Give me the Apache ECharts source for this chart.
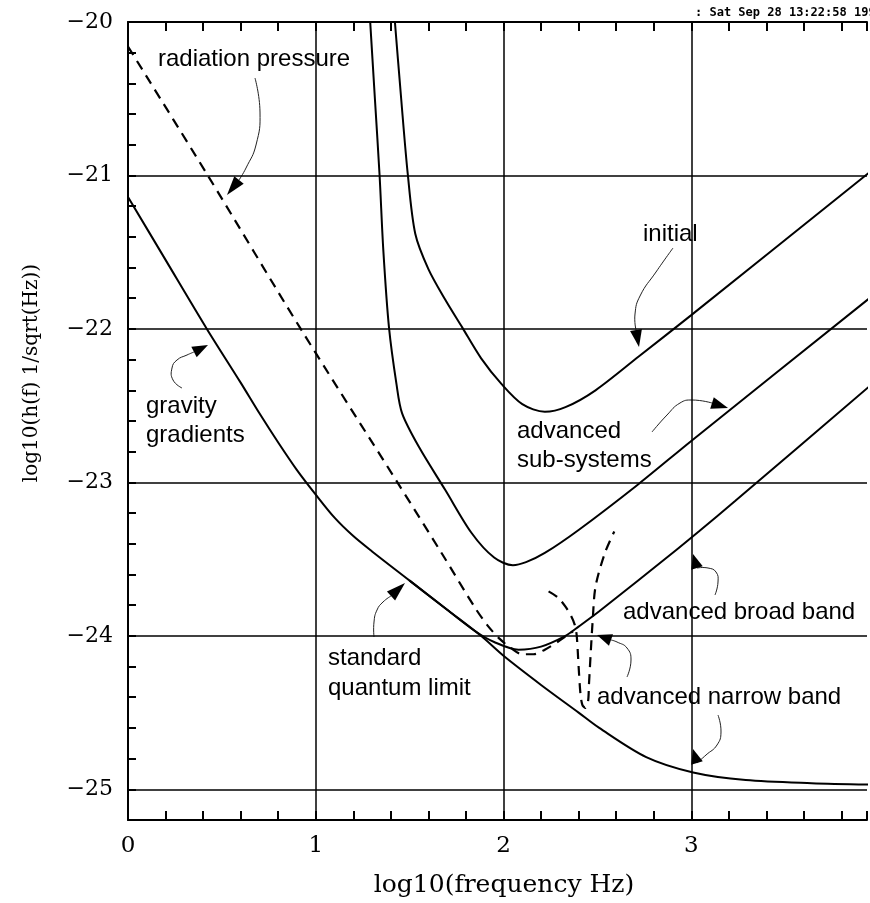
<!DOCTYPE html>
<html>
<head>
<meta charset="utf-8">
<title>Interferometer noise curves</title>
<script src="https://cdn.jsdelivr.net/npm/echarts@6/dist/echarts.min.js"></script>
<style>
  html, body { margin: 0; padding: 0; background: #fff; }
  #chart { width: 870px; height: 903px; }
</style>
</head>
<body>
<div id="chart"></div>
<script>
// points: [log10 frequency, log10 h]
const quantumLimit = [
    [0, -21.14], [0.2, -21.55], [0.42, -22.0], [0.6, -22.35], [0.7, -22.55],
    [0.8, -22.74], [0.9, -22.92], [1.0, -23.08], [1.1, -23.23], [1.2, -23.35],
    [1.3, -23.45], [1.5, -23.64], [1.7, -23.83], [1.88, -24.0], [2.0, -24.13],
    [2.2, -24.32], [2.4, -24.5], [2.51, -24.6], [2.76, -24.79], [3.01, -24.89],
    [3.29, -24.94], [3.64, -24.96], [4.0, -24.97]
];
const broadBand = [
    [1.5, -23.64], [1.7, -23.83], [1.85, -23.97], [1.95, -24.04], [2.08, -24.09],
    [2.2, -24.07], [2.33, -24.0], [2.4, -23.94], [2.51, -23.84], [2.92, -23.44],
    [3.04, -23.32], [3.235, -23.12], [4.0, -22.32]
];
const subSystems = [
    [1.285, -19.9], [1.315, -20.5], [1.34, -21.0], [1.36, -21.49], [1.39, -21.99],
    [1.43, -22.36], [1.46, -22.55], [1.55, -22.77], [1.69, -23.05], [1.83, -23.33],
    [1.95, -23.49], [2.05, -23.54], [2.12, -23.52], [2.22, -23.46], [2.4, -23.31],
    [2.72, -23.01], [3.0, -22.73], [4.0, -21.75]
];
const initial = [
    [1.415, -19.9], [1.455, -20.5], [1.49, -20.99], [1.53, -21.38], [1.6, -21.61],
    [1.69, -21.81], [1.78, -21.99], [1.88, -22.19], [1.99, -22.36], [2.1, -22.49],
    [2.22, -22.54], [2.33, -22.51], [2.49, -22.4], [2.72, -22.18], [3.0, -21.91],
    [4.0, -20.93]
];
const radiationPressure = [
    [0, -20.16], [0.425, -21.0], [0.92, -22.0], [1.435, -23.0], [1.67, -23.46],
    [1.85, -23.82], [1.92, -23.94], [1.98, -24.02], [2.04, -24.08], [2.1, -24.12],
    [2.16, -24.12], [2.22, -24.09], [2.3, -24.03], [2.37, -23.97]
];
const narrowBand = [
    [2.24, -23.71], [2.29, -23.75], [2.33, -23.81], [2.36, -23.87], [2.38, -23.93],
    [2.39, -24.0], [2.4, -24.2], [2.41, -24.38], [2.42, -24.45], [2.435, -24.47],
    [2.45, -24.43], [2.455, -24.32], [2.465, -24.1], [2.475, -23.9], [2.49, -23.68],
    [2.54, -23.46], [2.59, -23.32]
];
const xGridLines = [1, 2, 3];
const yGridLines = [-21, -22, -23, -24, -25];
// the scan is cut off just short of log10 f = 4
const xMax = 3.936;

const chart = echarts.init(document.getElementById('chart'));

const ink = '#000';
const serif = '"DejaVu Serif", serif';
const sans = '"Liberation Sans", Arial, sans-serif';

function curve(data, dashed) {
    return {
        type: 'line',
        data: data,
        symbol: 'none',
        smooth: 0.3,
        clip: true,
        silent: true,
        lineStyle: { color: ink, width: dashed ? 2.2 : 2, type: dashed ? [10, 7] : 'solid' }
    };
}

// thin curved leader + filled arrow head (pixel coords)
function arrow(path, tip) {
    const base = path[path.length - 1];
    const dx = tip[0] - base[0], dy = tip[1] - base[1];
    const len = Math.sqrt(dx * dx + dy * dy);
    const nx = -dy / len * 6, ny = dx / len * 6;
    return [
        { type: 'polyline', shape: { points: path, smooth: 0.5 }, style: { stroke: '#222', lineWidth: 1, fill: null } },
        { type: 'polygon', shape: { points: [tip, [base[0] + nx, base[1] + ny], [base[0] - nx, base[1] - ny]] }, style: { fill: ink } }
    ];
}

function label(text, x, baseline) {
    return { type: 'text', style: { text: text, x: x, y: baseline - 8, font: '24px ' + sans, fill: ink, textAlign: 'left', textVerticalAlign: 'middle' } };
}

const graphics = [
    label('radiation pressure', 158, 67),
    label('initial', 643, 242),
    label('gravity', 146, 414),
    label('gradients', 146, 443),
    label('advanced', 517, 439),
    label('sub-systems', 517, 468),
    label('advanced broad band', 623, 620),
    label('advanced narrow band', 597, 705),
    label('standard', 328, 666),
    label('quantum limit', 328, 696),
    ...arrow([[255, 78], [260, 112], [256, 145], [246, 168], [239, 180]], [227, 195]),
    ...arrow([[673, 248], [656, 272], [640, 296], [635, 314], [636, 330]], [639, 347]),
    ...arrow([[652, 432], [667, 415], [680, 403], [692, 400], [712, 403]], [728, 408]),
    ...arrow([[182, 388], [173, 380], [172, 368], [177, 360], [187, 355], [194, 352]], [208, 345]),
    ...arrow([[374, 637], [374, 622], [377, 610], [383, 602], [391, 596]], [405, 583]),
    ...arrow([[715, 595], [718, 582], [716, 572], [708, 568], [697, 568]], [693, 554]),
    ...arrow([[627, 677], [631, 660], [627, 648], [617, 642], [611, 640]], [597, 635]),
    ...arrow([[718, 715], [721, 732], [717, 745], [706, 755], [697, 763]], [693, 749]),
    {
        type: 'text', rotation: Math.PI / 2, x: 32, y: 373,
        style: { text: 'log10(h(f) 1/sqrt(Hz))', font: '20px ' + serif, fill: ink, textAlign: 'center', textVerticalAlign: 'middle' }
    },
    {
        type: 'text',
        style: { text: 'log10(frequency Hz)', x: 504, y: 885, font: '25px ' + serif, fill: ink, textAlign: 'center', textVerticalAlign: 'middle' }
    },
    {
        type: 'text',
        style: { text: ': Sat Sep 28 13:22:58 1996', x: 695, y: 13, font: 'bold 12px "DejaVu Sans Mono", monospace', fill: ink, textAlign: 'left', textVerticalAlign: 'middle' }
    }
];

const tickStyle = { color: ink, width: 2 };
const isWhole = v => Math.abs(v - Math.round(v)) < 1e-6;

const gridLineSeries = {
    type: 'line',
    data: [],
    silent: true,
    markLine: {
        silent: true,
        symbol: 'none',
        label: { show: false },
        lineStyle: { color: ink, width: 1.5, type: 'solid' },
        data: yGridLines.map(v => ({ yAxis: v })).concat(xGridLines.map(v => ({ xAxis: v })))
    }
};

function xAxisAt(position) {
    return {
        type: 'value', min: 0, max: xMax, interval: 0.2, position: position,
        axisLine: { show: true, lineStyle: tickStyle },
        axisTick: { show: true, inside: true, length: 9, lineStyle: tickStyle },
        splitLine: { show: false },
        axisLabel: {
            show: position === 'bottom',
            color: ink, fontFamily: serif, fontSize: 23, margin: 15,
            formatter: v => isWhole(v) ? String(Math.round(v)) : ''
        }
    };
}

const option = {
    animation: false,
    backgroundColor: '#fff',
    grid: { left: 128, right: 0, top: 22, bottom: 83 },
    xAxis: [xAxisAt('bottom'), xAxisAt('top')],
    yAxis: {
        type: 'value', min: -25.2, max: -20, interval: 0.2,
        axisLine: { show: true, lineStyle: tickStyle },
        axisTick: { show: true, inside: true, length: 8, lineStyle: tickStyle },
        splitLine: { show: false },
        axisLabel: {
            color: ink, fontFamily: serif, fontSize: 22, margin: 15,
            formatter: v => isWhole(v) ? String(Math.round(v)).replace('-', '\u2212') : ''
        }
    },
    graphic: graphics,
    series: [
        gridLineSeries,
        curve(quantumLimit, false),
        curve(broadBand, false),
        curve(subSystems, false),
        curve(initial, false),
        curve(radiationPressure, true),
        curve(narrowBand, true)
    ]
};

chart.setOption(option);
</script>
</body>
</html>
